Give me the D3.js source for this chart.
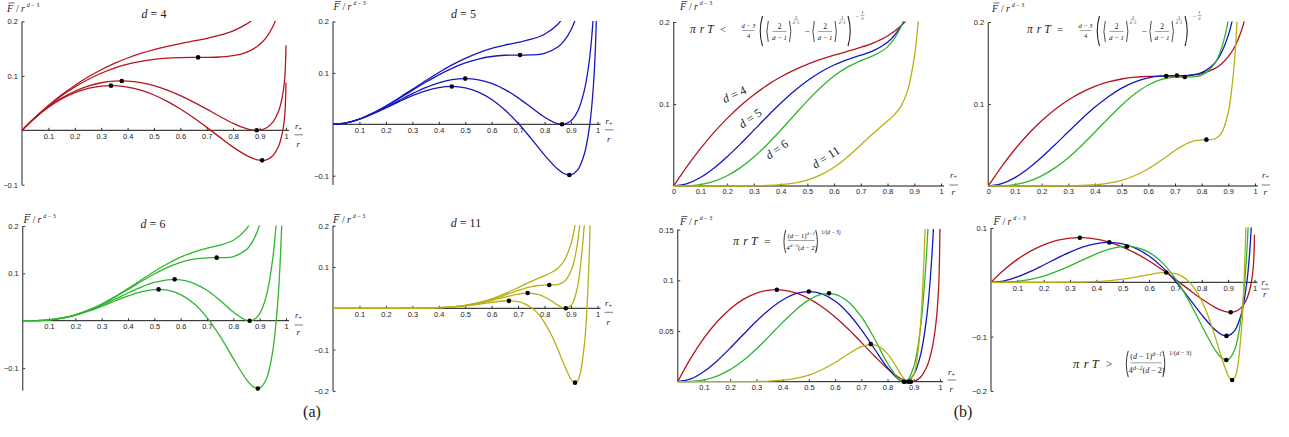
<!DOCTYPE html>
<html>
<head>
<meta charset="utf-8">
<script src="https://cdn.jsdelivr.net/npm/d3@7"></script>
<style>
  body { margin: 0; background: #fff; }
  svg { display: block; }
</style>
</head>
<body>
<svg id="chart" width="1289" height="437"></svg>
<script>
// r+/r sample positions
var xs = [0, 0.05, 0.1, 0.15, 0.2, 0.25, 0.3, 0.35, 0.4, 0.45, 0.5, 0.55, 0.6, 0.65, 0.7, 0.75,
    0.8, 0.85, 0.875, 0.9, 0.925, 0.95, 0.97, 0.985, 0.995, 1];
var xs11 = [0, 0.05, 0.1, 0.15, 0.2, 0.25, 0.3, 0.35, 0.4, 0.45, 0.5, 0.55, 0.6, 0.65, 0.7, 0.725,
    0.75, 0.775, 0.8, 0.825, 0.85, 0.875, 0.9, 0.91, 0.925, 0.95, 0.96, 0.97, 0.985, 0.995, 1];

// F/r^(d-3), four cavity temperatures per dimension (low, inflection, Hawking-Page, high)
var d4_low = [0, 0.0239, 0.0455, 0.0651, 0.0825, 0.0979, 0.1113, 0.123, 0.1329, 0.1413, 0.1484, 0.1543, 0.1595, 0.1642, 0.1691, 0.1749, 0.1829, 0.1951, 0.2039, 0.2156, 0.2316, 0.2548, 0.283, 0.3167, 0.3571, 0.422];
var d4_infl = [0, 0.0237, 0.0448, 0.0634, 0.0796, 0.0934, 0.1049, 0.1142, 0.1215, 0.1269, 0.1305, 0.1327, 0.1337, 0.134, 0.134, 0.1347, 0.1371, 0.1434, 0.1492, 0.1577, 0.1704, 0.1902, 0.2157, 0.2474, 0.2863, 0.3505];
var d4_hp = [0, 0.0232, 0.0429, 0.0591, 0.0718, 0.0812, 0.0874, 0.0904, 0.0904, 0.0875, 0.0819, 0.0739, 0.0638, 0.0519, 0.0388, 0.0254, 0.0128, 0.0031, 0.0004, 0.0003, 0.0042, 0.0149, 0.0329, 0.0589, 0.0939, 0.1562];
var d4_high = [0, 0.023, 0.0422, 0.0575, 0.0691, 0.077, 0.0813, 0.0821, 0.0795, 0.0737, 0.0649, 0.0533, 0.0392, 0.0231, 0.0054, -0.013, -0.0309, -0.0462, -0.0518, -0.055, -0.0542, -0.0467, -0.0313, -0.0073, 0.0264, 0.088];

var d5_low = [0, 0.0028, 0.0103, 0.0216, 0.0356, 0.0514, 0.0681, 0.0848, 0.1008, 0.1155, 0.1283, 0.1391, 0.1476, 0.1541, 0.1595, 0.1655, 0.1752, 0.1947, 0.2116, 0.2367, 0.2749, 0.3357, 0.4157, 0.5175, 0.6447, 0.8577];
var d5_infl = [0, 0.0028, 0.0102, 0.0214, 0.035, 0.0503, 0.0661, 0.0817, 0.0962, 0.1089, 0.1193, 0.127, 0.1319, 0.1343, 0.1347, 0.135, 0.1382, 0.1503, 0.1632, 0.184, 0.2176, 0.2736, 0.3497, 0.4484, 0.5735, 0.7853];
var d5_hp = [0, 0.0027, 0.01, 0.0205, 0.0331, 0.0465, 0.0596, 0.0713, 0.0806, 0.0868, 0.0889, 0.0866, 0.0795, 0.0675, 0.0514, 0.0325, 0.0138, 0.0011, 0.0004, 0.0069, 0.0254, 0.0654, 0.128, 0.2162, 0.3342, 0.5424];
var d5_high = [0, 0.0027, 0.0099, 0.02, 0.0319, 0.0442, 0.0557, 0.0651, 0.0714, 0.0736, 0.0709, 0.0626, 0.0483, 0.0279, 0.002, -0.0283, -0.06, -0.0875, -0.0962, -0.0982, -0.0888, -0.0583, -0.0036, 0.0784, 0.1921, 0.3982];

var d6_low = [0, 0.0002, 0.0018, 0.0057, 0.0125, 0.0224, 0.0353, 0.0507, 0.068, 0.086, 0.1038, 0.1201, 0.1341, 0.1449, 0.1529, 0.1596, 0.1697, 0.1939, 0.2182, 0.2576, 0.3225, 0.4336, 0.5888, 0.7951, 1.0618, 1.5205];
var d6_infl = [0, 0.0002, 0.0018, 0.0057, 0.0124, 0.0221, 0.0346, 0.0495, 0.0658, 0.0826, 0.0985, 0.1124, 0.1232, 0.1299, 0.1327, 0.133, 0.1352, 0.15, 0.1688, 0.2023, 0.2608, 0.365, 0.5142, 0.7159, 0.9792, 1.4363];
var d6_hp = [0, 0.0002, 0.0018, 0.0055, 0.0119, 0.021, 0.0323, 0.0452, 0.0585, 0.0708, 0.0807, 0.0863, 0.0861, 0.0789, 0.0641, 0.0426, 0.0182, 0.0009, 0.0013, 0.0149, 0.0517, 0.1323, 0.2613, 0.447, 0.6992, 1.1507];
var d6_high = [0, 0.0002, 0.0018, 0.0054, 0.0115, 0.0201, 0.0304, 0.0416, 0.0524, 0.061, 0.0657, 0.0644, 0.0551, 0.0362, 0.0066, -0.0332, -0.0799, -0.1242, -0.1391, -0.1423, -0.1237, -0.0629, 0.0492, 0.2214, 0.4644, 0.9111];

var d11_low = [0, 0, 0, 0, 0, 0, 0.0002, 0.0006, 0.0016, 0.0036, 0.0073, 0.0135, 0.0228, 0.0353, 0.0501, 0.0578, 0.0653, 0.0724, 0.0793, 0.0867, 0.0971, 0.1163, 0.1565, 0.1837, 0.2447, 0.4441, 0.5868, 0.7962, 1.3556, 2.18, 3.7533];
var d11_infl = [0, 0, 0, 0, 0, 0, 0.0002, 0.0006, 0.0015, 0.0035, 0.007, 0.0128, 0.0211, 0.0317, 0.0432, 0.0483, 0.0525, 0.0552, 0.0563, 0.0565, 0.0576, 0.0649, 0.0903, 0.1106, 0.16, 0.3365, 0.4686, 0.6664, 1.2065, 2.0168, 3.5825];
var d11_hp = [0, 0, 0, 0, 0, 0, 0.0002, 0.0006, 0.0015, 0.0033, 0.0066, 0.0118, 0.0189, 0.0273, 0.0345, 0.0364, 0.0363, 0.0335, 0.0274, 0.0183, 0.0077, 0.0001, 0.0069, 0.0184, 0.0532, 0.2006, 0.3193, 0.5026, 1.0184, 1.8108, 3.367];
var d11_high = [0, 0, 0, 0, 0, 0, 0.0002, 0.0005, 0.0014, 0.003, 0.0057, 0.0096, 0.0143, 0.0177, 0.0159, 0.0109, 0.0017, -0.013, -0.0345, -0.0634, -0.0992, -0.1385, -0.1718, -0.179, -0.1755, -0.09, -0.0001, 0.152, 0.6159, 1.3699, 2.9058];

// marked extrema: [r+/r, F/r^(d-3)]
var infl_pts = { 4: [0.667, 0.134], 5: [0.7071, 0.1348], 6: [0.7368, 0.133], 11: [0.8177, 0.0565] };
var hp_pts = { 4: [[0.378, 0.0907], [0.889, 0]], 5: [[0.5, 0.0889], [0.866, 0]], 6: [[0.577, 0.0872], [0.862, 0]], 11: [[0.736, 0.0371], [0.88, 0]] };
var high_pts = { 4: [[0.337, 0.0821], [0.9095, -0.0552]], 5: [[0.449, 0.0735], [0.8936, -0.0987]], 6: [[0.516, 0.066], [0.893, -0.143]], 11: [[0.665, 0.018], [0.915, -0.18]] };

var xTicks = [0.1, 0.2, 0.3, 0.4, 0.5, 0.6, 0.7, 0.8, 0.9, 1];
var xTicksZero = [0, 0.1, 0.2, 0.3, 0.4, 0.5, 0.6, 0.7, 0.8, 0.9, 1];

var colors = { 4: "#b3161e", 5: "#1717bf", 6: "#2fb52f", 11: "#b8b011" };
var serif = "'Liberation Serif', 'DejaVu Serif', serif";
var sans = "'Liberation Sans', Arial, sans-serif";

function series(d) {
    if (d == 4) return [d4_low, d4_infl, d4_hp, d4_high].map(function (v) { return { x: xs, y: v, d: 4 }; });
    if (d == 5) return [d5_low, d5_infl, d5_hp, d5_high].map(function (v) { return { x: xs, y: v, d: 5 }; });
    if (d == 6) return [d6_low, d6_infl, d6_hp, d6_high].map(function (v) { return { x: xs, y: v, d: 6 }; });
    return [d11_low, d11_infl, d11_hp, d11_high].map(function (v) { return { x: xs11, y: v, d: 11 }; });
}
function allDots(d) {
    return [infl_pts[d]].concat(hp_pts[d], high_pts[d]);
}
function pick(i) {
    return [4, 5, 6, 11].map(function (d) { return series(d)[i]; });
}

var panels = [
    { id: "a1", x0: 22, x1: 286, y0: 130.3, k: 544, ymin: -0.1, ymax: 0.2, yTicks: [0.2, 0.1, -0.1], xTicks: xTicks,
      curves: series(4), dots: allDots(4), title: "4", tx: 154, ty: 18, lx: 7, ly: 11.5, rl: [9, -1, 4.5, 17] },
    { id: "a2", x0: 333, x1: 597.5, y0: 124.3, k: 514, ymin: -0.118, ymax: 0.2, yTicks: [0.2, 0.1, -0.1], xTicks: xTicks,
      curves: series(5), dots: allDots(5), title: "5", tx: 463.5, ty: 18, lx: 333.5, ly: 10, rl: [8, 0, 5.5, 17.5] },
    { id: "a3", x0: 22.7, x1: 286, y0: 320.7, k: 474, ymin: -0.148, ymax: 0.2, yTicks: [0.2, 0.1, -0.1], xTicks: xTicks,
      curves: series(6), dots: allDots(6), title: "6", tx: 153, ty: 227.5, lx: 23.5, ly: 223, rl: [9, -2.5, 4.3, 14] },
    { id: "a4", x0: 333, x1: 597.5, y0: 308.3, k: 413, ymin: -0.2, ymax: 0.2, yTicks: [0.2, 0.1, -0.1, -0.2], xTicks: xTicks,
      curves: series(11), dots: allDots(11), title: "11", tx: 466, ty: 227, lx: 333, ly: 223, rl: [7.5, -2.3, 4, 16.5] },
    { id: "b1", x0: 673.7, x1: 941, y0: 186, k: 820, ymin: 0, ymax: 0.2, yTicks: [0.2, 0.1], xTicks: xTicksZero,
      curves: pick(0), dots: [], lx: 680, ly: 10, rl: [9, -8.5, -1, 9] },
    { id: "b2", x0: 988.3, x1: 1255, y0: 186, k: 820, ymin: 0, ymax: 0.2, yTicks: [0.2, 0.1], xTicks: xTicksZero,
      curves: pick(1), dots: [4, 5, 6, 11].map(function (d) { return infl_pts[d]; }), lx: 992, ly: 11.5, rl: [7, -8.5, -1, 9] },
    { id: "b3", x0: 677.7, x1: 940, y0: 381.7, k: 1014, ymin: 0, ymax: 0.15, yTicks: [0.15, 0.1, 0.05], xTicks: xTicks,
      curves: pick(2), dots: [].concat(hp_pts[4], hp_pts[5], hp_pts[6], hp_pts[11]), lx: 680, ly: 225, rl: [8, -6.5, -1.7, 10.3] },
    { id: "b4", x0: 991, x1: 1254.5, y0: 282.3, k: 543, ymin: -0.2, ymax: 0.1, yTicks: [0.1, -0.1, -0.2], xTicks: xTicks,
      curves: pick(3), dots: [].concat(high_pts[4], high_pts[5], high_pts[6], high_pts[11]), lx: 993.5, ly: 225, rl: [7, 2.7, 6.7, 14.7] }
];

var svg = d3.select("#chart");
var defs = svg.append("defs");

function fmt(v) {
    return v < 0 ? "\u2212" + Math.abs(v) : String(v);
}

function drawPanel(p) {
    var x = d3.scaleLinear().domain([0, 1]).range([p.x0, p.x1]);
    var y = d3.scaleLinear().domain([0, 0.1]).range([p.y0, p.y0 - p.k * 0.1]);
    var g = svg.append("g").attr("class", "panel-" + p.id);

    defs.append("clipPath").attr("id", "clip-" + p.id)
        .append("rect")
        .attr("x", p.x0)
        .attr("y", y(p.ymax) - 0.5)
        .attr("width", p.x1 - p.x0 + 1)
        .attr("height", y(p.ymin) - y(p.ymax) + 2);

    // axes
    var xAxis = d3.axisBottom(x).tickValues(p.xTicks).tickSize(-2.5).tickSizeOuter(0).tickPadding(3).tickFormat(fmt);
    var gx = g.append("g").attr("transform", "translate(0," + p.y0 + ")").call(xAxis);
    gx.select(".domain").remove();
    gx.selectAll("line").attr("stroke", "#333");
    gx.selectAll("text").attr("font-size", 7.5).attr("font-family", sans).attr("fill", "#222");
    g.append("line")
        .attr("x1", p.x0).attr("x2", p.x1 + 3)
        .attr("y1", p.y0).attr("y2", p.y0)
        .attr("stroke", "#111").attr("stroke-width", 1);

    var yAxis = d3.axisLeft(y).tickValues(p.yTicks).tickSize(-2.5).tickSizeOuter(0).tickPadding(4).tickFormat(fmt);
    var gy = g.append("g").attr("transform", "translate(" + p.x0 + ",0)").call(yAxis);
    gy.select(".domain").remove();
    gy.selectAll("line").attr("stroke", "#333");
    gy.selectAll("text").attr("font-size", 7.5).attr("font-family", sans).attr("fill", "#222");
    g.append("line")
        .attr("x1", p.x0).attr("x2", p.x0)
        .attr("y1", y(p.ymin)).attr("y2", y(p.ymax))
        .attr("stroke", "#555").attr("stroke-width", 1.3);

    // curves
    var line = d3.line()
        .x(function (d) { return x(d[0]); })
        .y(function (d) { return y(d[1]); })
        .curve(d3.curveCatmullRom.alpha(0.5));

    g.append("g").attr("clip-path", "url(#clip-" + p.id + ")")
        .selectAll("path")
        .data(p.curves)
        .enter().append("path")
        .attr("d", function (s) { return line(s.x.map(function (v, i) { return [v, s.y[i]]; })); })
        .attr("fill", "none")
        .attr("stroke", function (s) { return colors[s.d]; })
        .attr("stroke-width", 1.3);

    g.selectAll("circle.pt")
        .data(p.dots)
        .enter().append("circle")
        .attr("class", "pt")
        .attr("cx", function (d) { return x(d[0]); })
        .attr("cy", function (d) { return y(d[1]); })
        .attr("r", 2.3)
        .attr("fill", "#000");

    // y label  F-bar / r^(d-3)
    var yl = g.append("text").attr("x", p.lx).attr("y", p.ly)
        .attr("font-family", serif).attr("font-size", 10).attr("fill", "#222");
    yl.append("tspan").attr("font-style", "italic").text("F");
    yl.append("tspan").attr("dx", 3).text("/");
    yl.append("tspan").attr("dx", 2).attr("font-style", "italic").text("r");
    yl.append("tspan").attr("dx", 2).attr("dy", -5).attr("font-size", 6).attr("font-style", "italic").text("d");
    yl.append("tspan").attr("dx", 1.5).attr("font-size", 6).text("\u2212 3");
    g.append("line")
        .attr("x1", p.lx + 1.5).attr("x2", p.lx + 7.5)
        .attr("y1", p.ly - 8.5).attr("y2", p.ly - 8.5)
        .attr("stroke", "#222").attr("stroke-width", 0.7);

    // x label  r+ over r
    var rx = p.x1 + p.rl[0];
    var rn = g.append("text").attr("x", rx).attr("y", p.y0 + p.rl[1])
        .attr("font-family", serif).attr("font-size", 9).attr("fill", "#222");
    rn.append("tspan").attr("font-style", "italic").text("r");
    rn.append("tspan").attr("dy", 1.5).attr("font-size", 6).text("+");
    g.append("line")
        .attr("x1", rx - 0.5).attr("x2", rx + 8)
        .attr("y1", p.y0 + p.rl[2]).attr("y2", p.y0 + p.rl[2])
        .attr("stroke", "#222").attr("stroke-width", 0.6);
    g.append("text").attr("x", rx + 1.5).attr("y", p.y0 + p.rl[3])
        .attr("font-family", serif).attr("font-size", 9).attr("font-style", "italic").attr("fill", "#222")
        .text("r");

    if (p.title) {
        var t = g.append("text").attr("x", p.tx).attr("y", p.ty)
            .attr("text-anchor", "middle").attr("font-family", serif).attr("font-size", 12).attr("fill", "#222");
        t.append("tspan").attr("font-style", "italic").text("d");
        t.append("tspan").text(" = " + p.title);
    }
}

panels.forEach(drawPanel);

// ---- formula helpers ----
var fg = svg.append("g").attr("font-family", serif).attr("fill", "#222");

function txt(x, y, s, size, italic, anchor) {
    return fg.append("text").attr("x", x).attr("y", y).attr("font-size", size)
        .attr("font-style", italic ? "italic" : "normal")
        .attr("text-anchor", anchor || "start").text(s);
}
function bar(x1, x2, yb, w) {
    fg.append("line").attr("x1", x1).attr("x2", x2).attr("y1", yb).attr("y2", yb)
        .attr("stroke", "#444").attr("stroke-width", w || 0.5);
}
function paren(x, y1, y2, w, left, sw) {
    var xa = left ? x + w : x, xb = left ? x : x + w;
    fg.append("path")
        .attr("d", "M" + xa + "," + y1 + " Q" + xb + "," + ((y1 + y2) / 2) + " " + xa + "," + y2)
        .attr("fill", "none").attr("stroke", "#222").attr("stroke-width", sw || 0.9);
}
function piRT(x, y, size, rel) {
    txt(x, y, "\u03c0", size, true);
    txt(x + size * 0.85, y, "r", size, true);
    txt(x + size * 1.5, y, "T", size, true);
    txt(x + size * 2.6, y, rel, size * 0.95, false);
}

// inflection-type temperature bound (top panels of b)
function boundFormula(ox, rel) {
    piRT(690 + ox, 33, 11.5, rel);
    txt(748.5 + ox, 28, "d \u2212 3", 6.5, true, "middle");
    bar(742.5 + ox, 754.5 + ox, 30.5);
    txt(748.5 + ox, 37.5, "4", 6.5, false, "middle");
    paren(758 + ox, 16, 46, 4.5, true, 1.1);
    [[765.5, 779.5, 789.5, 796, "2"], [811.5, 825, 835, 842, "1"]].forEach(function (q) {
        paren(q[0] + ox, 21, 42, 2.8, true, 0.8);
        txt(q[1] + ox, 29, "2", 7.5, false, "middle");
        bar(q[1] - 7 + ox, q[1] + 7 + ox, 31.5);
        txt(q[1] + ox, 39.5, "d \u2212 1", 7, true, "middle");
        paren(q[2] + ox, 21, 42, 2.8, false, 0.8);
        txt(q[3] + ox, 18.5, q[4], 4.5, false, "middle");
        bar(q[3] - 2.5 + ox, q[3] + 2.5 + ox, 19.8, 0.4);
        txt(q[3] + ox, 23.8, "d\u22123", 3.8, true, "middle");
    });
    txt(807 + ox, 34, "\u2212", 9, false, "middle");
    paren(848 + ox, 16, 46, 4.5, false, 1.1);
    txt(857 + ox, 17.5, "\u2212", 5.5, false, "middle");
    txt(862.5 + ox, 14, "1", 4.8, false, "middle");
    bar(860.5 + ox, 864.5 + ox, 15.5, 0.4);
    txt(862.5 + ox, 19.8, "2", 4.8, false, "middle");
}
boundFormula(0, "<");
boundFormula(337, "=");

// Hawking-Page temperature (bottom panels of b)
function hpFormula(x0, yb, size, rel, s) {
    piRT(x0, yb, size, rel);
    var px = x0 + size * 4.1;
    paren(px, yb - 15 * s, yb + 8 * s, 3.5 * s, true, 0.9);
    var cx = px + 19 * s;
    var num = fg.append("text").attr("x", cx).attr("y", yb - 7.5 * s)
        .attr("text-anchor", "middle").attr("font-size", 7 * s);
    num.append("tspan").text("(");
    num.append("tspan").attr("font-style", "italic").text("d");
    num.append("tspan").text(" \u2212 1)");
    num.append("tspan").attr("dy", -3 * s).attr("font-size", 5 * s).attr("font-style", "italic").text("d\u22121");
    bar(cx - 13.5 * s, cx + 13.5 * s, yb - 4.5 * s);
    var den = fg.append("text").attr("x", cx + 0.5 * s).attr("y", yb + 4.5 * s)
        .attr("text-anchor", "middle").attr("font-size", 7 * s);
    den.append("tspan").text("4");
    den.append("tspan").attr("dy", -3 * s).attr("font-size", 5 * s).attr("font-style", "italic").text("d\u22122");
    den.append("tspan").attr("dy", 3 * s).text("(");
    den.append("tspan").attr("font-style", "italic").text("d");
    den.append("tspan").text(" \u2212 2)");
    paren(cx + 14.5 * s, yb - 15 * s, yb + 8 * s, 3.5 * s, false, 0.9);
    var ex = fg.append("text").attr("x", cx + 20 * s).attr("y", yb - 11.5 * s).attr("font-size", 5.5 * s);
    ex.append("tspan").text("1/(");
    ex.append("tspan").attr("font-style", "italic").text("d");
    ex.append("tspan").text(" \u2212 3)");
}
hpFormula(733, 245, 12, "=", 1);
hpFormula(1073, 368, 12.5, ">", 1.15);

// dimension labels along the curves in the first b panel
[["4", 734.3, 94.3, -25], ["5", 750, 118.3, -35], ["6", 776.7, 149.3, -35], ["11", 825.7, 157.3, -33]]
    .forEach(function (l) {
        var t = fg.append("text")
            .attr("transform", "translate(" + l[1] + "," + l[2] + ") rotate(" + l[3] + ")")
            .attr("text-anchor", "middle").attr("dy", "0.35em").attr("font-size", 12);
        t.append("tspan").attr("font-style", "italic").text("d");
        t.append("tspan").text(" = " + l[0]);
    });

// subfigure captions
txt(312, 417, "(a)", 16, false, "middle");
txt(963, 417, "(b)", 16, false, "middle");
</script>
</body>
</html>
